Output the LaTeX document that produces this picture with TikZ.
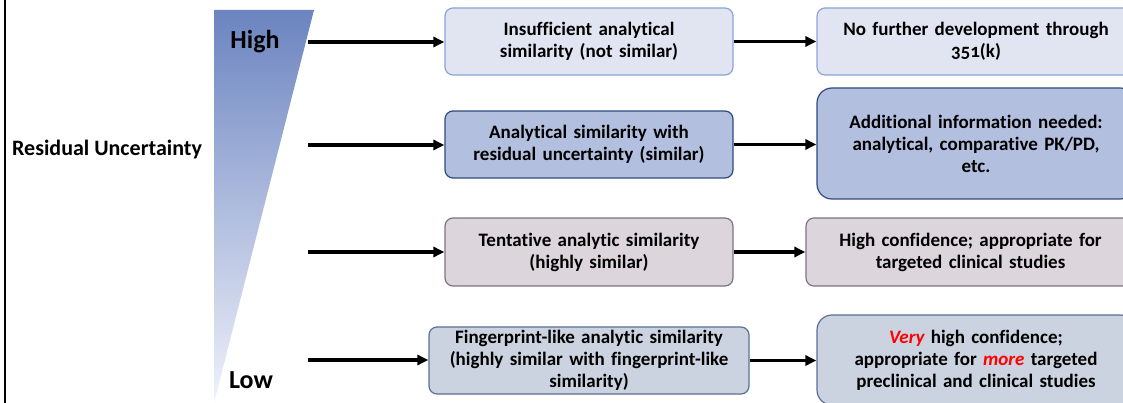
\documentclass[tikz,border=0pt]{standalone}
\usepackage{fontspec}
\setmainfont{Carlito}[Ligatures=NoCommon]
\usetikzlibrary{arrows.meta}
\definecolor{topblue}{HTML}{6B84C0}
\definecolor{lowblue}{HTML}{F0F2FA}
\definecolor{fillA}{HTML}{E1E5F2}\definecolor{lineA}{HTML}{8EA2D4}
\definecolor{fillB}{HTML}{B3BFDF}\definecolor{lineB}{HTML}{2F4A7E}
\definecolor{fillC}{HTML}{DCD5DC}\definecolor{lineC}{HTML}{7F7283}
\definecolor{fillD}{HTML}{CCD3E0}\definecolor{lineD}{HTML}{5C7096}
\tikzset{
  box/.style={draw, line width=1.2pt, rounded corners=8pt, align=center,
    font=\fontsize{19}{22}\selectfont\bfseries, inner sep=2pt},
  bigbox/.style={box, rounded corners=15pt},
  arr/.style={line width=3.2pt, -{Triangle[length=11pt,width=10pt]}},
  scale label/.style={font=\fontsize{26}{30}\selectfont\bfseries},
}
\newcommand{\hl}[1]{\textcolor{red}{\itshape #1}}
\begin{document}
\begin{tikzpicture}[x=1pt,y=-1pt]
\clip (0,0) rectangle (1123,403);
\fill[white] (0,0) rectangle (1123,403);
% left rule
\draw[line width=2pt] (5,-2) -- (5,405);
% uncertainty wedge
\shade[top color=topblue, bottom color=lowblue] (214,10) -- (314,10) -- (214,403) -- cycle;
\node[scale label] (high) at (255,42) {High};
\node[scale label] (low) at (251,380) {Low};
\node[font=\fontsize{22}{26}\selectfont\bfseries] (ru) at (107,150) {Residual Uncertainty};
% arrow tails at the wedge
\coordinate (t1) at (308,42);
\coordinate (t2) at (308,145);
\coordinate (t3) at (308,252);
\coordinate (t4) at (308,360);
% middle column
\node[box, fill=fillA, draw=lineA, minimum width=288pt, minimum height=67pt, text width=280pt] (b1) at (589,41.5) {Insufficient analytical\\similarity (not similar)};
\node[box, fill=fillB, draw=lineB, minimum width=288pt, minimum height=67pt, text width=280pt] (b2) at (589,144.5) {Analytical similarity with\\residual uncertainty (similar)};
\node[box, fill=fillC, draw=lineC, minimum width=288pt, minimum height=68pt, text width=280pt] (b3) at (589,252) {Tentative analytic similarity\\(highly similar)};
\node[box, fill=fillD, draw=lineD, minimum width=320pt, minimum height=67pt, text width=316pt] (b4) at (589,360.5) {Fingerprint-like analytic similarity\\(highly similar with fingerprint-like\\similarity)};
% right column
\node[box, fill=fillA, draw=lineA, minimum width=318pt, minimum height=67pt, text width=300pt] (r1) at (976,41.5) {No further development through\\{\addfontfeatures{Numbers=OldStyle}351}(k)};
\node[bigbox, fill=fillB, draw=lineB, minimum width=318pt, minimum height=111pt, text width=300pt] (r2) at (976,143.5) {Additional information needed:\\analytical, comparative PK/PD,\\etc.};
\node[box, fill=fillC, draw=lineC, minimum width=329pt, minimum height=68pt, text width=300pt] (r3) at (970.5,252) {High confidence; appropriate for\\targeted clinical studies};
\node[bigbox, fill=fillD, draw=lineD, minimum width=318pt, minimum height=90pt, text width=300pt] (r4) at (976,360) {\hl{Very} high confidence;\\appropriate for \hl{more} targeted\\preclinical and clinical studies};
% connectors
\draw[arr] (t1) -- (t1 -| b1.west);
\draw[arr] (t2) -- (t2 -| b2.west);
\draw[arr] (t3) -- (t3 -| b3.west);
\draw[arr] (t4) -- (t4 -| b4.west);
\draw[arr] (b1.east) -- (b1.east -| r1.west);
\draw[arr] (b2.east) -- (b2.east -| r2.west);
\draw[arr] (b3.east) -- (b3.east -| r3.west);
\draw[arr] (b4.east) -- (b4.east -| r4.west);
\end{tikzpicture}
\end{document}
